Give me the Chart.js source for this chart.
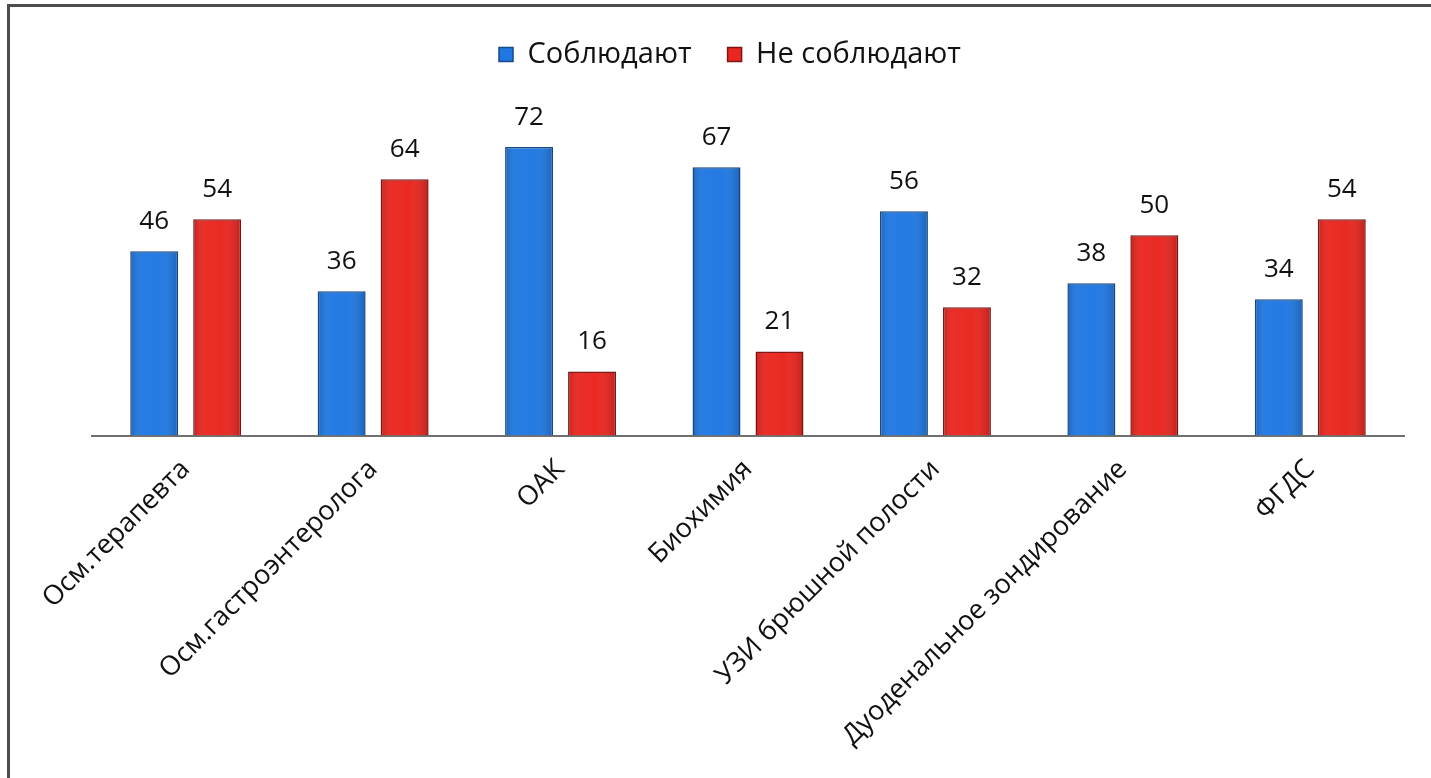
<!DOCTYPE html>
<html>
<head>
<meta charset="utf-8">
<script src="https://cdn.jsdelivr.net/npm/chart.js@4.4.1/dist/chart.umd.min.js"></script>
<style>
  html, body { margin: 0; padding: 0; background: #fff; }
  #wrap { position: relative; width: 1431px; height: 778px; overflow: hidden; }
  #frame {
    position: absolute; left: 7px; top: 4px; right: 0; bottom: 0;
    border-top: 3px solid #4d4d4d; border-left: 3px solid #4d4d4d;
    pointer-events: none;
  }
  canvas { position: absolute; left: 0; top: 0; }
</style>
</head>
<body>
<div id="wrap">
  <canvas id="c" width="1431" height="778"></canvas>
  <div id="frame"></div>
</div>
<script>
const categories = [
  'Осм.терапевта',
  'Осм.гастроэнтеролога',
  'ОАК',
  'Биохимия',
  'УЗИ брюшной полости',
  'Дуоденальное зондирование',
  'ФГДС'
];
const complyValues = [46, 36, 72, 67, 56, 38, 34];
const nonComplyValues = [54, 64, 16, 21, 32, 50, 54];
const seriesNames = ['Соблюдают', 'Не соблюдают'];

const FONT = '"Open Sans", "Noto Sans", sans-serif';

// Nudge the legend a little left of the plot centre
const legendShift = {
  id: 'legendShift',
  afterLayout(chart) {
    const lg = chart.legend;
    if (lg) { lg.left -= 18; lg.right -= 18; }
  }
};

// Soft cylinder-like shading across each bar
const barShading = {
  id: 'barShading',
  afterDatasetsDraw(chart) {
    const ctx = chart.ctx;
    ctx.save();
    chart.data.datasets.forEach((ds, i) => {
      chart.getDatasetMeta(i).data.forEach((bar) => {
        const w = bar.width, left = bar.x - w / 2;
        const top = bar.y, h = bar.base - bar.y;
        const g = ctx.createLinearGradient(left, 0, left + w, 0);
        g.addColorStop(0, 'rgba(0,0,0,0.16)');
        g.addColorStop(0.25, 'rgba(255,255,255,0.04)');
        g.addColorStop(0.6, 'rgba(255,255,255,0.02)');
        g.addColorStop(1, 'rgba(0,0,0,0.18)');
        ctx.fillStyle = g;
        ctx.fillRect(left + 1, top + 1, w - 2, h - 1);
      });
    });
    ctx.restore();
  }
};

// Value printed above each bar
const valueLabels = {
  id: 'valueLabels',
  afterDatasetsDraw(chart) {
    const ctx = chart.ctx;
    ctx.save();
    ctx.font = '26px ' + FONT;
    ctx.fillStyle = '#111';
    ctx.textAlign = 'center';
    ctx.textBaseline = 'bottom';
    chart.data.datasets.forEach((ds, i) => {
      chart.getDatasetMeta(i).data.forEach((bar, j) => {
        ctx.fillText(String(ds.data[j]), bar.x, bar.y - 17);
      });
    });
    ctx.restore();
  }
};

new Chart(document.getElementById('c'), {
  type: 'bar',
  data: {
    labels: categories,
    datasets: [
      {
        label: seriesNames[0],
        data: complyValues,
        backgroundColor: '#1f78e2',
        borderColor: '#174a88',
        borderWidth: 1.5
      },
      {
        label: seriesNames[1],
        data: nonComplyValues,
        backgroundColor: '#e9261f',
        borderColor: '#7d1515',
        borderWidth: 1.5
      }
    ]
  },
  options: {
    responsive: false,
    devicePixelRatio: 1,
    animation: false,
    layout: { padding: { left: 92, right: 27, top: 4, bottom: 8 } },
    datasets: {
      bar: { categoryPercentage: 0.672, barPercentage: 0.762 }
    },
    plugins: {
      legend: {
        position: 'top',
        labels: {
          boxWidth: 14,
          boxHeight: 14,
          padding: 36,
          color: '#111',
          font: { family: FONT, size: 29 }
        }
      },
      tooltip: { enabled: false }
    },
    scales: {
      x: {
        grid: { display: false, drawTicks: false },
        border: { display: true, color: '#707070', width: 2 },
        ticks: {
          color: '#111',
          minRotation: 45,
          maxRotation: 45,
          autoSkip: false,
          padding: 18,
          font: { family: FONT, size: 27 }
        }
      },
      y: {
        display: false,
        min: 0,
        max: 89
      }
    }
  },
  plugins: [legendShift, barShading, valueLabels]
});
</script>
</body>
</html>
